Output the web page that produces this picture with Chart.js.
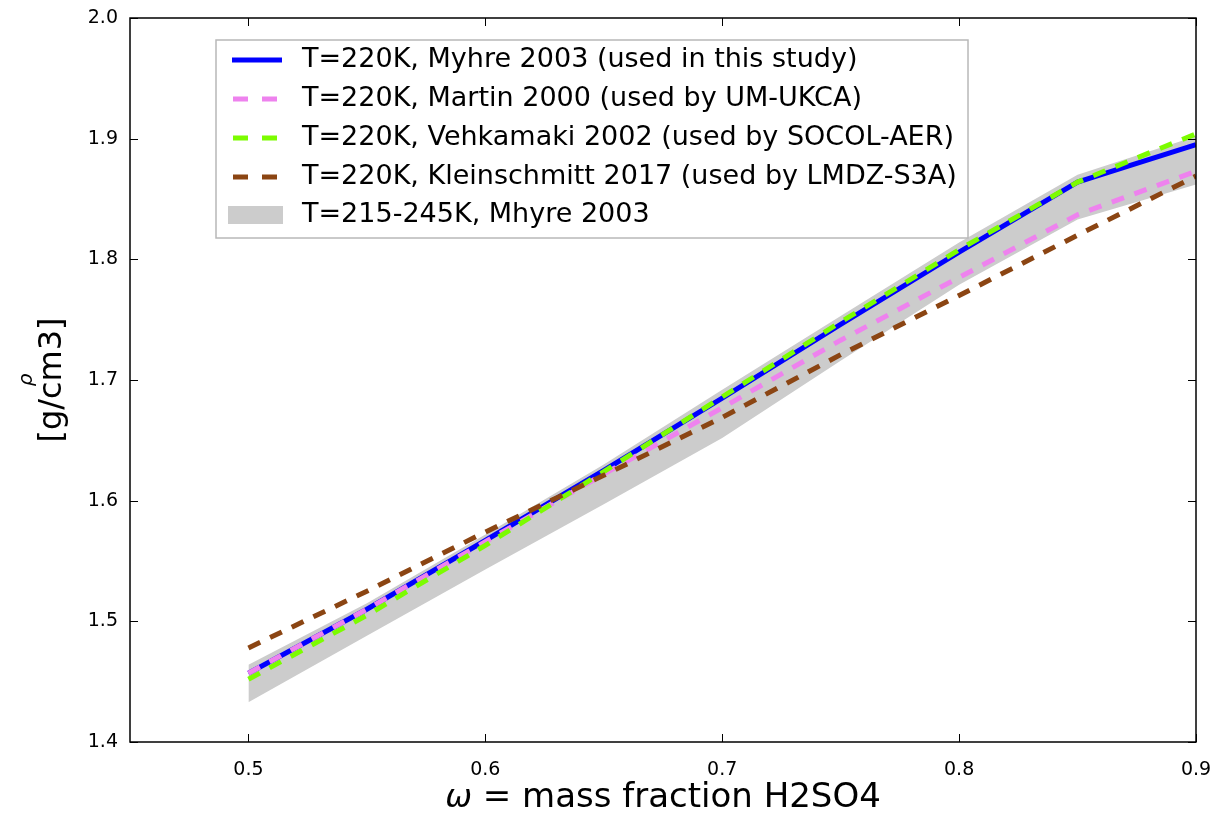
<!DOCTYPE html>
<html>
<head>
<meta charset="utf-8">
<script src="https://cdn.jsdelivr.net/npm/chart.js@4.4.1/dist/chart.umd.min.js"></script>
<style>
  html, body { margin: 0; padding: 0; background: #fff; }
  #wrap { width: 1220px; height: 816px; position: relative; }
</style>
</head>
<body>
<div id="wrap"><canvas id="densityChart" width="1220" height="816"></canvas></div>
<script>
// mass fraction of H2SO4
const omega = [0.5, 0.55, 0.6, 0.65, 0.7, 0.75, 0.8, 0.85, 0.9];

// density in g/cm3 at T=220K
const myhre220 = [1.457, 1.510, 1.567, 1.625, 1.685, 1.746, 1.806, 1.864, 1.895];
const martin220 = [1.457, 1.510, 1.566, 1.622, 1.677, 1.733, 1.785, 1.837, 1.873];
const vehkamaki220 = [1.452, 1.505, 1.563, 1.624, 1.686, 1.748, 1.808, 1.864, 1.904];
const kleinschmitt220 = [1.478, 1.525, 1.574, 1.621, 1.669, 1.721, 1.770, 1.820, 1.869];

// Myhre 2003 range over 215-245K
const bandLow = [1.433, 1.488, 1.543, 1.597, 1.652, 1.716, 1.779, 1.833, 1.862];
const bandHigh = [1.464, 1.515, 1.572, 1.630, 1.692, 1.753, 1.814, 1.870, 1.902];

const seriesLabels = [
    'T=220K, Myhre 2003 (used in this study)',
    'T=220K, Martin 2000 (used by UM-UKCA)',
    'T=220K, Vehkamaki 2002 (used by SOCOL-AER)',
    'T=220K, Kleinschmitt 2017 (used by LMDZ-S3A)',
    'T=215-245K, Mhyre 2003'
];

const xTicks = [0.5, 0.6, 0.7, 0.8, 0.9];
const yTicks = [1.4, 1.5, 1.6, 1.7, 1.8, 1.9, 2.0];

const FONT = '"DejaVu Sans", sans-serif';
const dash = [13, 11];

const pts = ys => omega.map((x, i) => ({ x: x, y: ys[i] }));

function line(ctx, x1, y1, x2, y2) {
    ctx.beginPath();
    ctx.moveTo(x1, y1);
    ctx.lineTo(x2, y2);
    ctx.stroke();
}

// frame, inward ticks, legend and axis titles drawn like matplotlib
const decorations = {
    id: 'decorations',
    afterDraw(chart) {
        const ctx = chart.ctx;
        const a = chart.chartArea;
        const x = chart.scales.x;
        const y = chart.scales.y;
        ctx.save();

        ctx.strokeStyle = '#000';
        ctx.lineWidth = 1;
        xTicks.forEach(v => {
            const px = Math.round(x.getPixelForValue(v)) + 0.5;
            line(ctx, px, a.bottom, px, a.bottom - 8);
            line(ctx, px, a.top, px, a.top + 8);
        });
        yTicks.forEach(v => {
            const py = Math.round(y.getPixelForValue(v)) + 0.5;
            line(ctx, a.left, py, a.left + 8, py);
            line(ctx, a.right, py, a.right - 8, py);
        });
        ctx.lineWidth = 1.5;
        ctx.strokeRect(a.left, a.top, a.right - a.left, a.bottom - a.top);

        // legend
        const box = { l: 216, t: 40, r: 968, b: 238 };
        ctx.fillStyle = '#fff';
        ctx.fillRect(box.l, box.t, box.r - box.l, box.b - box.t);
        ctx.strokeStyle = '#b8b8b8';
        ctx.lineWidth = 1.5;
        ctx.strokeRect(box.l, box.t, box.r - box.l, box.b - box.t);

        const rows = [60, 99, 138, 177, 215];
        const lineSets = chart.data.datasets.slice(2);
        lineSets.forEach((ds, i) => {
            ctx.strokeStyle = ds.borderColor;
            ctx.lineWidth = ds.borderWidth;
            if (ds.borderDash) {
                ctx.setLineDash([15, 14]);
                line(ctx, 233, rows[i], 277, rows[i]);
            } else {
                ctx.setLineDash([]);
                line(ctx, 232, rows[i], 282, rows[i]);
            }
        });
        ctx.setLineDash([]);
        ctx.fillStyle = chart.data.datasets[1].backgroundColor;
        ctx.fillRect(228, rows[4] - 9, 55, 18);

        ctx.fillStyle = '#000';
        ctx.font = '27px ' + FONT;
        ctx.textBaseline = 'middle';
        ctx.textAlign = 'left';
        seriesLabels.forEach((t, i) => ctx.fillText(t, 302, rows[i]));

        // x title with italic omega
        const xt = ' = mass fraction H2SO4';
        ctx.font = 'italic 32px ' + FONT;
        const wOm = ctx.measureText('ω').width;
        ctx.font = '34px ' + FONT;
        const wRest = ctx.measureText(xt).width;
        let sx = (a.left + a.right) / 2 - (wOm + wRest) / 2;
        ctx.textBaseline = 'alphabetic';
        ctx.font = 'italic 32px ' + FONT;
        ctx.fillText('ω', sx, 807);
        ctx.font = '34px ' + FONT;
        ctx.fillText(xt, sx + wOm, 807);

        // y title, two lines
        ctx.translate(0, (a.top + a.bottom) / 2);
        ctx.rotate(-Math.PI / 2);
        ctx.textAlign = 'center';
        ctx.font = 'italic 20px ' + FONT;
        ctx.fillText('ρ', 0, 32);
        ctx.font = '32px ' + FONT;
        ctx.fillText('[g/cm3]', 0, 61);

        ctx.restore();
    }
};

const ctx = document.getElementById('densityChart').getContext('2d');
new Chart(ctx, {
    type: 'line',
    data: {
        datasets: [
            {
                label: 'band low',
                data: pts(bandLow),
                borderWidth: 0,
                borderColor: 'rgba(0,0,0,0)',
                fill: false,
                order: 6
            },
            {
                label: seriesLabels[4],
                data: pts(bandHigh),
                borderWidth: 0,
                borderColor: 'rgba(0,0,0,0)',
                backgroundColor: '#cccccc',
                fill: '-1',
                order: 5
            },
            {
                label: seriesLabels[0],
                data: pts(myhre220),
                borderColor: '#0000ff',
                borderWidth: 5,
                order: 4
            },
            {
                label: seriesLabels[1],
                data: pts(martin220),
                borderColor: '#ee82ee',
                borderWidth: 5,
                borderDash: dash,
                order: 3
            },
            {
                label: seriesLabels[2],
                data: pts(vehkamaki220),
                borderColor: '#7cfc00',
                borderWidth: 5,
                borderDash: dash,
                order: 2
            },
            {
                label: seriesLabels[3],
                data: pts(kleinschmitt220),
                borderColor: '#8b4513',
                borderWidth: 5,
                borderDash: dash,
                order: 1
            }
        ]
    },
    options: {
        responsive: false,
        animation: false,
        layout: { padding: { top: 18, right: 24, left: 0, bottom: 0 } },
        elements: {
            point: { radius: 0 },
            line: { tension: 0, borderCapStyle: 'butt', fill: false }
        },
        datasets: { line: { clip: 0 } },
        scales: {
            x: {
                type: 'linear',
                min: 0.45,
                max: 0.9,
                grid: { display: false, drawTicks: false },
                border: { display: false },
                afterBuildTicks: s => { s.ticks = xTicks.map(v => ({ value: v })); },
                afterFit: s => {
                    s.height = 74;
                    s.paddingLeft = 0;
                    s.paddingRight = 0;
                },
                ticks: {
                    padding: 17,
                    color: '#000',
                    font: { family: FONT, size: 19 },
                    callback: v => v.toFixed(1)
                }
            },
            y: {
                type: 'linear',
                min: 1.4,
                max: 2.0,
                grid: { display: false, drawTicks: false },
                border: { display: false },
                afterBuildTicks: s => { s.ticks = yTicks.map(v => ({ value: v })); },
                afterFit: s => {
                    s.width = 130;
                    s.paddingTop = 0;
                    s.paddingBottom = 0;
                },
                ticks: {
                    padding: 12,
                    color: '#000',
                    font: { family: FONT, size: 19 },
                    callback: v => v.toFixed(1)
                }
            }
        },
        plugins: {
            legend: { display: false },
            tooltip: { enabled: false }
        }
    },
    plugins: [decorations]
});
</script>
</body>
</html>
